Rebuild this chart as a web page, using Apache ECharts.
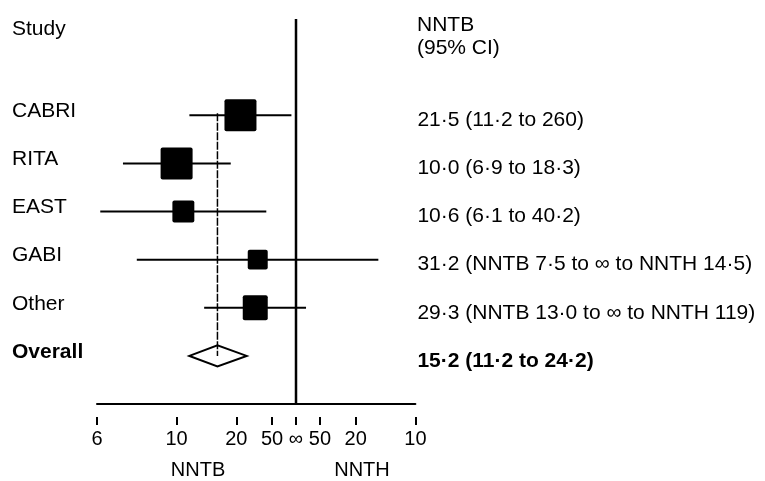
<!DOCTYPE html>
<html><head><meta charset="utf-8">
<script src="https://cdn.jsdelivr.net/npm/echarts@6/dist/echarts.min.js"></script>
<style>html,body{margin:0;padding:0;background:#fff}#c{width:765px;height:481px}</style>
</head><body><div id="c"></div>
<script>
// Data (NNT values: positive = NNTB, negative = NNTH)
const studies = ['CABRI', 'RITA', 'EAST', 'GABI', 'Other', 'Overall'];
const nntPoint = [21.5, 10.0, 10.6, 31.2, 29.3, 15.2];
const nntLow = [11.2, 6.9, 6.1, 7.5, 13.0, 11.2];
const nntHigh = [260, 18.3, 40.2, -14.5, -119, 24.2];
const weights = [1, 1, 0.47, 0.39, 0.61, null];
const ciText = [
  '21·5 (11·2 to 260)',
  '10·0 (6·9 to 18·3)',
  '10·6 (6·1 to 40·2)',
  '31·2 (NNTB 7·5 to ∞ to NNTH 14·5)',
  '29·3 (NNTB 13·0 to ∞ to NNTH 119)',
  '15·2 (11·2 to 24·2)'
];
const tickNNT = [6, 10, 20, 50, Infinity, -50, -20, -10];
const tickLabels = ['6', '10', '20', '50', '∞', '50', '20', '10'];

// risk-difference scale: x = -1/NNT
const toX = n => (n === Infinity ? 0 : -1 / n);
const tickVals = tickNNT.map(toX);
const xMin = toX(tickNNT[0]);
const xMax = toX(tickNNT[tickNNT.length - 1]);
const FONT = '"Liberation Sans", Arial, sans-serif';
const F21 = '21px ' + FONT;

const rows = studies.map((s, i) => ({
  value: [toX(nntPoint[i]), i + 1, toX(nntLow[i]), toX(nntHigh[i]), i],
}));

const chart = echarts.init(document.getElementById('c'), null, {renderer: 'canvas'});
const overallIdx = studies.length - 1;

chart.setOption({
  animation: false,
  backgroundColor: '#fff',
  grid: {left: 97, right: 349.6, top: 19, bottom: 77, containLabel: false},
  xAxis: [{
    type: 'value', min: xMin, max: xMax, position: 'bottom',
    axisLine: {show: true, onZero: false, lineStyle: {color: '#000', width: 2}},
    axisTick: {show: false}, axisLabel: {show: false}, splitLine: {show: false}
  }, {
    type: 'value', min: xMin, max: xMax, position: 'bottom', offset: 13,
    axisLine: {show: false, onZero: false},
    axisTick: {show: true, length: 8, customValues: tickVals, lineStyle: {color: '#000', width: 2}},
    axisLabel: {
      show: true, customValues: tickVals, margin: 12,
      color: '#000', fontSize: 20, fontFamily: FONT,
      formatter: v => {
        const k = tickVals.findIndex(t => Math.abs(t - v) < 1e-9);
        return k >= 0 ? tickLabels[k] : '';
      }
    },
    splitLine: {show: false}
  }],
  yAxis: {type: 'value', inverse: true, min: -1, max: 7, show: false},
  graphic: [
    {type: 'text', x: 12, y: 29, style: {text: 'Study', font: F21, fill: '#000', align: 'left', verticalAlign: 'middle'}},
    {type: 'text', x: 417, y: 25, style: {text: 'NNTB', font: F21, fill: '#000', align: 'left', verticalAlign: 'middle'}},
    {type: 'text', x: 417, y: 48, style: {text: '(95% CI)', font: F21, fill: '#000', align: 'left', verticalAlign: 'middle'}},
    {type: 'text', x: 198, y: 470, style: {text: 'NNTB', font: '20px ' + FONT, fill: '#000', align: 'center', verticalAlign: 'middle'}},
    {type: 'text', x: 362, y: 470, style: {text: 'NNTH', font: '20px ' + FONT, fill: '#000', align: 'center', verticalAlign: 'middle'}}
  ],
  series: [
    {
      // vertical line of no effect
      type: 'custom', clip: false, xAxisIndex: 0,
      data: [[0, -1, 7]],
      renderItem: (params, api) => {
        const a = api.coord([api.value(0), api.value(1)]);
        const b = api.coord([api.value(0), api.value(2)]);
        return {type: 'line', shape: {x1: a[0], y1: a[1], x2: b[0], y2: b[1]}, style: {stroke: '#000', lineWidth: 2.5}};
      }
    },
    {
      type: 'custom', clip: false, xAxisIndex: 0,
      data: rows,
      renderItem: (params, api) => {
        const i = api.value(4);
        const c = api.coord([api.value(0), api.value(1)]);
        const lo = api.coord([api.value(2), api.value(1)]);
        const hi = api.coord([api.value(3), api.value(1)]);
        const right = api.coord([xMax, api.value(1)])[0];
        const isOverall = i === overallIdx;
        const children = [];
        const fnt = (isOverall ? 'bold ' : '') + F21;
        if (!isOverall) {
          children.push({type: 'line', shape: {x1: lo[0], y1: lo[1], x2: hi[0], y2: hi[1]}, style: {stroke: '#000', lineWidth: 2}});
          const s = 32 * Math.sqrt(weights[i]);
          children.push({type: 'rect', shape: {x: c[0] - s / 2, y: c[1] - s / 2, width: s, height: s, r: 2}, style: {fill: '#000'}});
        } else {
          const h = 10.5;
          children.push({type: 'polygon', shape: {points: [[lo[0], c[1]], [c[0], c[1] - h], [hi[0], c[1]], [c[0], c[1] + h]]}, style: {fill: '#fff', stroke: '#000', lineWidth: 2}});
          const top = api.coord([api.value(0), 0.96]);
          children.push({type: 'line', shape: {x1: top[0], y1: top[1], x2: c[0], y2: c[1]}, style: {stroke: '#000', lineWidth: 1.5, lineDash: [8, 1.5]}});
        }
        children.push({type: 'text', x: 12, y: c[1] - 4, style: {text: studies[i], font: fnt, fill: '#000', align: 'left', verticalAlign: 'middle'}});
        children.push({type: 'text', x: right + 2, y: c[1] + 5, style: {text: ciText[i], font: fnt, fill: '#000', align: 'left', verticalAlign: 'middle'}});
        return {type: 'group', children};
      }
    }
  ]
});
</script>
</body></html>
